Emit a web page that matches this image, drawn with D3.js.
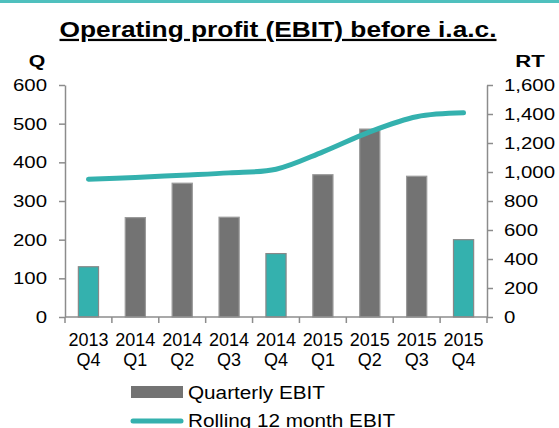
<!DOCTYPE html>
<html>
<head>
<meta charset="utf-8">
<script src="https://cdn.jsdelivr.net/npm/d3@7"></script>
<style>
  body { margin: 0; background: #fff; }
  text { font-family: "Liberation Sans", Arial, sans-serif; fill: #000; }
</style>
</head>
<body>
<div id="chart"></div>
<script>
const years = ['2013', '2014', '2014', '2014', '2014', '2015', '2015', '2015', '2015']
const quarters = ['Q4', 'Q1', 'Q2', 'Q3', 'Q4', 'Q1', 'Q2', 'Q3', 'Q4']
const quarterlyEbit = [130, 257, 346, 258, 164, 368, 486, 364, 200]
const rollingEbit = [950, 962, 978, 994, 1019, 1139, 1277, 1381, 1408]
const leftTicks = [0, 100, 200, 300, 400, 500, 600]
const rightTicks = [0, 200, 400, 600, 800, 1000, 1200, 1400, 1600]

const teal = '#34b1ae'
const grey = '#737373'
const axisColor = '#8c8c8c'

const width = 559
const height = 428
const margin = { top: 85, left: 65, right: 72, bottom: 111 }
const innerW = width - margin.left - margin.right
const innerH = height - margin.top - margin.bottom

// the source picture is wider than its fonts: widen text glyphs sideways
function widen (sel, f) {
  sel.each(function () {
    const t = d3.select(this)
    const tx = +t.attr('x') || 0
    const ty = +t.attr('y') || 0
    t.attr('x', 0).attr('y', 0)
      .attr('transform', `translate(${tx}, ${ty}) scale(${f}, 1)`)
  })
}

const svg = d3.select('#chart')
  .append('svg')
  .attr('width', width)
  .attr('height', height)

// top band
svg.append('rect')
  .attr('x', 0).attr('y', 0)
  .attr('width', width).attr('height', 3)
  .attr('fill', '#4fc0be')

svg.append('text')
  .attr('x', 278).attr('y', 37)
  .attr('text-anchor', 'middle')
  .style('font-size', '22.5px')
  .style('font-weight', 'bold')
  .style('text-decoration', 'underline')
  .text('Operating profit (EBIT) before i.a.c.')
  .call(widen, 1.17)

svg.append('text')
  .attr('x', 37).attr('y', 67)
  .attr('text-anchor', 'middle')
  .style('font-size', '17px')
  .style('font-weight', 'bold')
  .text('Q')
  .call(widen, 1.25)
svg.append('text')
  .attr('x', 530).attr('y', 67)
  .attr('text-anchor', 'middle')
  .style('font-size', '17px')
  .style('font-weight', 'bold')
  .text('RT')
  .call(widen, 1.3)

const g = svg.append('g')
  .attr('transform', `translate(${margin.left}, ${margin.top})`)

const idx = d3.range(quarterlyEbit.length)
const x = d3.scaleBand()
  .domain(idx)
  .range([0, innerW])
  .paddingInner(0.57)
  .paddingOuter(0.285)

const yLeft = d3.scaleLinear().domain([0, 600]).range([innerH, 0])
const yRight = d3.scaleLinear().domain([0, 1600]).range([innerH, 0])

// bars
g.selectAll('.bar')
  .data(idx)
  .enter()
  .append('rect')
  .attr('class', 'bar')
  .attr('x', i => x(i))
  .attr('y', i => yLeft(quarterlyEbit[i]))
  .attr('width', x.bandwidth())
  .attr('height', i => innerH - yLeft(quarterlyEbit[i]))
  .attr('fill', i => quarters[i] === 'Q4' ? teal : grey)
  .attr('stroke', i => quarters[i] === 'Q4' ? '#888' : '#9a9a9a')
  .attr('stroke-width', 1.2)

// left axis
const leftAxis = g.append('g')
  .call(d3.axisLeft(yLeft).tickValues(leftTicks).tickSize(6).tickPadding(12).tickSizeOuter(0))
leftAxis.selectAll('text').style('font-size', '17px').style('fill', '#000').call(widen, 1.2)

// right axis
const rightAxis = g.append('g')
  .attr('transform', `translate(${innerW}, 0)`)
  .call(d3.axisRight(yRight).tickValues(rightTicks).tickSize(6).tickPadding(11)
    .tickSizeOuter(0).tickFormat(d3.format(',')))
rightAxis.selectAll('text').style('font-size', '17px').style('fill', '#000').call(widen, 1.2)

// bottom axis with ticks between categories
const step = x.step()
const bottom = g.append('g').attr('transform', `translate(0, ${innerH})`)
bottom.append('line')
  .attr('x1', 0).attr('x2', innerW)
  .attr('y1', 0).attr('y2', 0)
  .attr('stroke', axisColor).attr('stroke-width', 1.5)
bottom.selectAll('.xt')
  .data(d3.range(quarterlyEbit.length + 1))
  .enter()
  .append('line')
  .attr('x1', i => x(0) - x.paddingInner() * step / 2 + i * step)
  .attr('x2', i => x(0) - x.paddingInner() * step / 2 + i * step)
  .attr('y1', 0).attr('y2', 6)
  .attr('stroke', axisColor).attr('stroke-width', 1.5)

const labels = bottom.selectAll('.xl')
  .data(idx)
  .enter()
  .append('text')
  .attr('text-anchor', 'middle')
  .style('font-size', '18px')
labels.append('tspan')
  .attr('x', i => x(i) + x.bandwidth() / 2)
  .attr('y', 29)
  .text(i => years[i])
labels.append('tspan')
  .attr('x', i => x(i) + x.bandwidth() / 2)
  .attr('y', 49)
  .text(i => quarters[i])

g.selectAll('.domain').attr('stroke', axisColor).attr('stroke-width', 1.5)
g.selectAll('.tick line').attr('stroke', axisColor).attr('stroke-width', 1.5)

// rolling line (Excel-style smoothing)
const line = d3.line()
  .x(i => x(i) + x.bandwidth() / 2)
  .y(i => yRight(rollingEbit[i]))
  .curve(d3.curveCardinal.tension(0))
g.append('path')
  .datum(idx)
  .attr('d', line)
  .attr('fill', 'none')
  .attr('stroke', teal)
  .attr('stroke-width', 5)
  .attr('stroke-linecap', 'round')

// legend
const legend = svg.append('g')
legend.append('rect')
  .attr('x', 131).attr('y', 386)
  .attr('width', 52).attr('height', 12)
  .attr('fill', grey)
legend.append('text')
  .attr('x', 188).attr('y', 399)
  .style('font-size', '18.5px')
  .text('Quarterly EBIT')
  .call(widen, 1.12)
legend.append('line')
  .attr('x1', 133).attr('x2', 181)
  .attr('y1', 421).attr('y2', 421)
  .attr('stroke', teal).attr('stroke-width', 5)
  .attr('stroke-linecap', 'round')
legend.append('text')
  .attr('x', 188).attr('y', 427)
  .style('font-size', '18.5px')
  .text('Rolling 12 month EBIT')
  .call(widen, 1.12)
</script>
</body>
</html>
